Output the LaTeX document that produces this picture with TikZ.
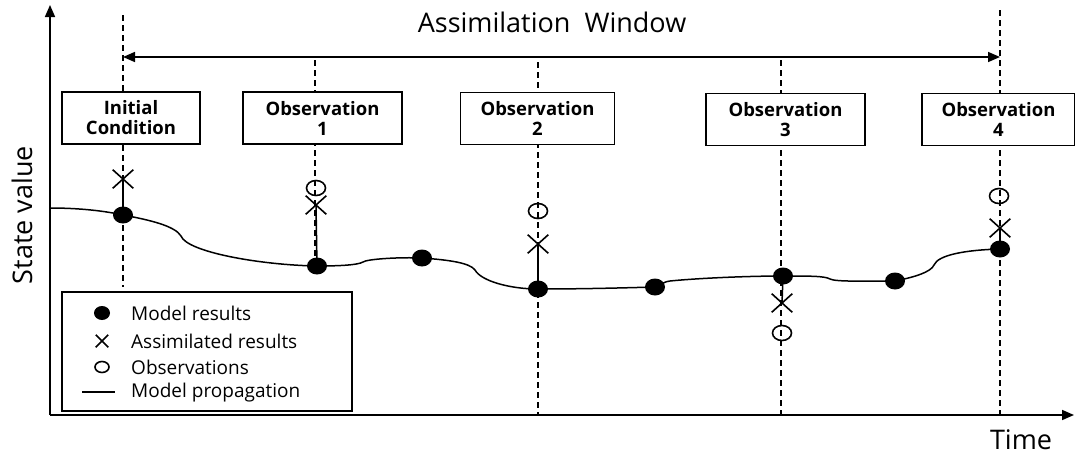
\documentclass[tikz,border=0pt]{standalone}
\usepackage{fontspec}
\setmainfont{Open Sans}
\usetikzlibrary{shapes.geometric,shapes.misc,arrows.meta}
\begin{document}
\begin{tikzpicture}[x=1pt,y=-1pt,
  ax/.style={line width=1.6pt,-{Triangle[length=12pt,width=10pt]}},
  guide/.style={line width=1.3pt,dash pattern=on 6pt off 4pt},
  curve/.style={line width=1.5pt},
  stem/.style={line width=1.5pt},
  evbox/.style={draw,line width=1.5pt,fill=white,minimum height=52pt,align=center,inner sep=0pt,font=\fontsize{18.5}{20}\selectfont\bfseries},
  model/.style={ellipse,fill=black,minimum width=20pt,minimum height=17pt,inner sep=0pt},
  assim/.style={cross out,draw,line width=1.6pt,minimum width=19pt,minimum height=17pt,inner sep=0pt},
  obs/.style={ellipse,draw,line width=1.6pt,minimum width=19pt,minimum height=15pt,inner sep=0pt},
  big/.style={font=\fontsize{27}{32}\selectfont},
  legtext/.style={anchor=west,font=\fontsize{19}{22}\selectfont,inner sep=0pt}
]
\useasboundingbox (0,0) rectangle (1075,458);
% guides
\coordinate (g0t) at (123,15);  \coordinate (g0b) at (123,287);
\coordinate (g1t) at (315,60);  \coordinate (g1b) at (315,268);
\coordinate (g2t) at (538,62);  \coordinate (g2b) at (538,415);
\coordinate (g3t) at (781,60);  \coordinate (g3b) at (781,415);
\coordinate (g4t) at (1000,10); \coordinate (g4b) at (1000,415);
\foreach \i in {0,...,4} \draw[guide] (g\i t) -- (g\i b);
% axes
\coordinate (o) at (50,415);
\coordinate (ytip) at (50,5);
\coordinate (xtip) at (1074,415);
\draw[ax] (o) -- (ytip);
\draw[ax] (o) -- (xtip);
\node[big,rotate=90] (ylab) at (22,215) {State value};
\node[big] (xlab) at (1021,440) {Time};
% window arrow
\coordinate (wa) at (123,57);
\coordinate (wb) at (1000,57);
\draw[line width=1.6pt,{Triangle[length=12pt,width=10pt]}-{Triangle[length=12pt,width=10pt]}] (wa) -- (wb);
\node[big] (title) at (552,22) {Assimilation\ \ Window};
% boxes
\node[evbox,minimum width=138pt] (b0) at (131,118) {Initial\\Condition};
\node[evbox,minimum width=159pt] (b1) at (322.5,118) {Observation\\1};
\node[evbox,minimum width=154pt] (b2) at (537.5,118.5) {Observation\\2};
\node[evbox,minimum width=159pt] (b3) at (785.5,119.5) {Observation\\3};
\node[evbox,minimum width=153pt] (b4) at (998.5,119.5) {Observation\\4};
% model results
\coordinate (c0) at (50,208);
\node[model] (m0) at (123,215) {};
\node[model] (m1) at (317,266) {};
\node[model] (m1b) at (422,258) {};
\node[model] (m2) at (538,289) {};
\node[model] (m2b) at (655,287) {};
\node[model] (m3) at (783,276) {};
\node[model] (m3b) at (895,281) {};
\node[model] (m4) at (1000,249) {};
% curve
\draw[curve] (c0) .. controls (80,208) and (105,211) .. (m0.center)
  .. controls (150,220) and (175,226) .. (181,236)
  .. controls (187,252) and (260,265) .. (m1.center)
  .. controls (340,266) and (358,265) .. (363,262)
  .. controls (367,259) and (400,257) .. (m1b.center)
  .. controls (450,260) and (470,263) .. (475,270)
  .. controls (481,281) and (510,289) .. (m2.center)
  .. controls (580,289) and (620,288) .. (m2b.center)
  .. controls (660,286) and (662,282) .. (670,281)
  .. controls (700,278) and (750,276) .. (m3.center)
  .. controls (810,276) and (825,276) .. (830,279)
  .. controls (835,282) and (870,281) .. (m3b.center)
  .. controls (915,277) and (931,272) .. (934,265)
  .. controls (938,255) and (965,250) .. (m4.center);
% assimilated results and observations
\node[assim] (x0) at (123,179) {};
\node[obs] (o1) at (316,188) {};
\node[assim] (x1) at (316,205) {};
\node[obs] (o2) at (538,211) {};
\node[assim] (x2) at (538,244) {};
\node[assim] (x3) at (782,303) {};
\node[obs] (o3) at (782,333) {};
\node[obs] (o4) at (999,196) {};
\node[assim] (x4) at (1000,228) {};
\draw[stem] (x0.center) -- (m0.center);
\draw[stem] (x1.center) -- (m1.center);
\draw[stem] (x2.center) -- (m2.center);
\draw[stem] (m3.center) -- (x3.center);
\draw[stem] (x4.center) -- (m4.center);
% legend
\node[draw,line width=1.5pt,fill=white,minimum width=290pt,minimum height=119pt,inner sep=0pt] (leg) at (207,351.5) {};
\node[ellipse,fill=black,minimum width=16pt,minimum height=14pt,inner sep=0pt] (lm) at (102,313) {};
\node[cross out,draw,line width=1.5pt,minimum size=11pt,inner sep=0pt] (lx) at (102,341) {};
\node[ellipse,draw,line width=1.6pt,minimum width=14pt,minimum height=11pt,inner sep=0pt] (lo) at (102,367) {};
\coordinate (la) at (82,392);
\coordinate (lb) at (115,392);
\draw[line width=1.2pt] (la) -- (lb);
\node[legtext] (t1) at (131,313) {Model results};
\node[legtext] (t2) at (131,341) {Assimilated results};
\node[legtext] (t3) at (131,367) {Observations};
\node[legtext] (t4) at (131,393) {Model propagation};
\end{tikzpicture}
\end{document}
